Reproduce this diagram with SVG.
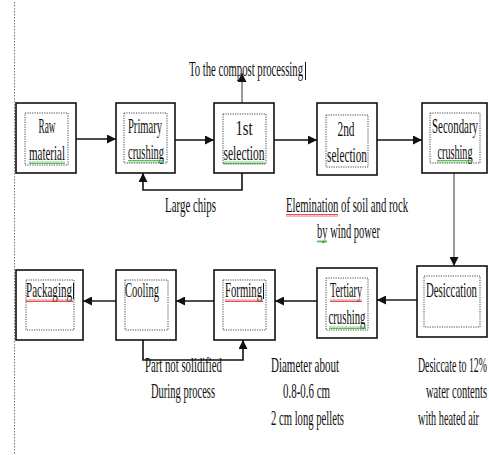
<svg xmlns="http://www.w3.org/2000/svg" width="489" height="455" viewBox="0 0 489 455">
  <style>
    .box { fill: #fff; stroke: #111; stroke-width: 1.6; }
    .inner { fill: none; stroke: #333; stroke-width: 0.9; stroke-dasharray: 1.2 1.2; }
    text { font-family: "Liberation Serif", "Times New Roman", serif; font-size: 21px; fill: #111; }
    .mid { text-anchor: middle; }
    .link { fill: none; stroke: #111; stroke-width: 1.6; }
    .grey { fill: none; stroke: #555; stroke-width: 2; }
    .thin { fill: none; stroke: #333; stroke-width: 1; }
    .cursor { stroke: #111; stroke-width: 1; }
  </style>
  <defs>
    <marker id="arrow" viewBox="0 0 10 10" refX="10" refY="5" markerWidth="9" markerHeight="9" markerUnits="userSpaceOnUse" orient="auto">
      <path d="M0,0 L10,5 L0,10 z" fill="#111"/>
    </marker>
    <pattern id="wavyRed" width="4" height="3" patternUnits="userSpaceOnUse">
      <path d="M0,2.5 L1,0.5 L2,2.5 L3,0.5 L4,2.5" fill="none" stroke="#d22" stroke-width="0.8"/>
    </pattern>
    <pattern id="wavyGreen" width="4" height="3" patternUnits="userSpaceOnUse">
      <path d="M0,2.5 L1,0.5 L2,2.5 L3,0.5 L4,2.5" fill="none" stroke="#3a3" stroke-width="0.8"/>
    </pattern>
  </defs>

  <rect width="489" height="455" fill="#fff"/>

  <!-- page margin guide -->
  <line x1="14.5" y1="2" x2="14.5" y2="455" stroke="#777" stroke-width="1" stroke-dasharray="1.5 1.5"/>

  <!-- connectors -->
  <g id="connectors">
    <line class="link" x1="76" y1="139" x2="116" y2="139" marker-end="url(#arrow)"/>
    <line class="link" x1="175" y1="140" x2="214" y2="140" marker-end="url(#arrow)"/>
    <line class="link" x1="274" y1="140" x2="317" y2="140" marker-end="url(#arrow)"/>
    <line class="link" x1="377" y1="140" x2="422" y2="140" marker-end="url(#arrow)"/>
    <line class="thin" x1="454" y1="173" x2="454" y2="266" marker-end="url(#arrow)"/>
    <line class="grey" x1="417" y1="300" x2="377" y2="300" marker-end="url(#arrow)"/>
    <line class="link" x1="317" y1="301" x2="275" y2="301" marker-end="url(#arrow)"/>
    <line class="link" x1="214" y1="301" x2="176" y2="301" marker-end="url(#arrow)"/>
    <line class="grey" x1="116" y1="301" x2="83" y2="301" marker-end="url(#arrow)"/>
    <line class="thin" x1="242" y1="103" x2="242" y2="73" marker-end="url(#arrow)"/>
    <polyline class="link" points="242,173 242,190 143,190 143,173" marker-end="url(#arrow)"/>
    <polyline class="link" points="143,340 143,360 243,360 243,340" marker-end="url(#arrow)"/>
  </g>

  <!-- process steps -->
  <g id="raw-material">
    <rect class="box" x="16" y="103" width="60" height="70"/>
    <rect class="inner" x="25" y="113" width="43" height="52"/>
    <text class="mid" x="47" y="133" textLength="17" lengthAdjust="spacingAndGlyphs">Raw</text>
    <text class="mid" x="47" y="160" textLength="36" lengthAdjust="spacingAndGlyphs">material</text>
    <rect x="29" y="161" width="36" height="3" fill="url(#wavyGreen)"/>
  </g>

  <g id="primary-crushing">
    <rect class="box" x="116" y="103" width="59" height="70"/>
    <rect class="inner" x="124" y="113" width="43" height="50"/>
    <text class="mid" x="145" y="133" textLength="34" lengthAdjust="spacingAndGlyphs">Primary</text>
    <text class="mid" x="146" y="159" textLength="36" lengthAdjust="spacingAndGlyphs">crushing</text>
    <rect x="128" y="160" width="36" height="3" fill="url(#wavyGreen)"/>
  </g>

  <g id="first-selection">
    <rect class="box" x="214" y="103" width="60" height="70"/>
    <rect class="inner" x="223" y="114" width="43" height="50"/>
    <text class="mid" x="244" y="135" textLength="17" lengthAdjust="spacingAndGlyphs">1st</text>
    <text class="mid" x="244" y="160" textLength="41" lengthAdjust="spacingAndGlyphs">selection</text>
    <rect x="223" y="161" width="42" height="3" fill="url(#wavyGreen)"/>
  </g>

  <g id="second-selection">
    <rect class="box" x="317" y="103" width="60" height="72"/>
    <rect class="inner" x="326" y="115" width="42" height="52"/>
    <text class="mid" x="346" y="136" textLength="17" lengthAdjust="spacingAndGlyphs">2nd</text>
    <text class="mid" x="347" y="162" textLength="40" lengthAdjust="spacingAndGlyphs">selection</text>
  </g>

  <g id="secondary-crushing">
    <rect class="box" x="422" y="103" width="65" height="70"/>
    <rect class="inner" x="430" y="113" width="50" height="50"/>
    <text class="mid" x="455" y="133" textLength="46" lengthAdjust="spacingAndGlyphs">Secondary</text>
    <text class="mid" x="455" y="159" textLength="35" lengthAdjust="spacingAndGlyphs">crushing</text>
    <rect x="437" y="160" width="35" height="3" fill="url(#wavyGreen)"/>
  </g>

  <g id="desiccation">
    <rect class="box" x="417" y="266" width="70" height="71"/>
    <rect class="inner" x="424" y="276" width="56" height="51"/>
    <text x="426" y="297" textLength="51" lengthAdjust="spacingAndGlyphs">Desiccation</text>
  </g>

  <g id="tertiary-crushing">
    <rect class="box" x="317" y="268" width="60" height="70"/>
    <rect class="inner" x="326" y="278" width="42" height="52"/>
    <text class="mid" x="346" y="297" textLength="32" lengthAdjust="spacingAndGlyphs">Tertiary</text>
    <text class="mid" x="347" y="324" textLength="37" lengthAdjust="spacingAndGlyphs">crushing</text>
    <rect x="330" y="299" width="32" height="3" fill="url(#wavyRed)"/>
    <rect x="329" y="326" width="37" height="3" fill="url(#wavyGreen)"/>
  </g>

  <g id="forming">
    <rect class="box" x="214" y="270" width="61" height="70"/>
    <rect class="inner" x="223" y="280" width="43" height="50"/>
    <text x="225" y="297" textLength="37" lengthAdjust="spacingAndGlyphs">Forming</text>
    <line class="cursor" x1="263.5" y1="283" x2="263.5" y2="299"/>
    <rect x="225" y="299" width="38" height="3" fill="url(#wavyRed)"/>
  </g>

  <g id="cooling">
    <rect class="box" x="116" y="270" width="60" height="70"/>
    <rect class="inner" x="125" y="280" width="43" height="50"/>
    <text x="125" y="297" textLength="34" lengthAdjust="spacingAndGlyphs">Cooling</text>
  </g>

  <g id="packaging">
    <rect class="box" x="16" y="270" width="67" height="70"/>
    <rect class="inner" x="26" y="280" width="48" height="50"/>
    <text x="26" y="297" textLength="46" lengthAdjust="spacingAndGlyphs">Packaging</text>
    <line class="cursor" x1="73.5" y1="283" x2="73.5" y2="299"/>
    <rect x="26" y="299" width="47" height="3" fill="url(#wavyRed)"/>
  </g>

  <!-- annotations -->
  <g id="notes">
    <text x="189" y="76" textLength="114" lengthAdjust="spacingAndGlyphs">To the compost processing</text>
    <line class="cursor" x1="305.5" y1="62" x2="305.5" y2="80"/>
    <text x="165" y="212" textLength="51" lengthAdjust="spacingAndGlyphs">Large chips</text>
    <text x="286" y="212" textLength="122" lengthAdjust="spacingAndGlyphs">Elemination of soil and rock</text>
    <rect x="286" y="214" width="52" height="3" fill="url(#wavyRed)"/>
    <text x="317" y="238" textLength="63" lengthAdjust="spacingAndGlyphs">by wind power</text>
    <rect x="317" y="240" width="10" height="3" fill="url(#wavyGreen)"/>
    <text x="145" y="372" textLength="77" lengthAdjust="spacingAndGlyphs">Part not solidified</text>
    <text x="151" y="398" textLength="64" lengthAdjust="spacingAndGlyphs">During process</text>
    <text x="271" y="372" textLength="68" lengthAdjust="spacingAndGlyphs">Diameter about</text>
    <text x="283" y="398" textLength="47" lengthAdjust="spacingAndGlyphs">0.8-0.6 cm</text>
    <text x="271" y="425" textLength="73" lengthAdjust="spacingAndGlyphs">2 cm long pellets</text>
    <text x="418" y="372" textLength="69" lengthAdjust="spacingAndGlyphs">Desiccate to 12%</text>
    <text x="426" y="398" textLength="61" lengthAdjust="spacingAndGlyphs">water contents</text>
    <text x="418" y="425" textLength="61" lengthAdjust="spacingAndGlyphs">with heated air</text>
  </g>
</svg>
